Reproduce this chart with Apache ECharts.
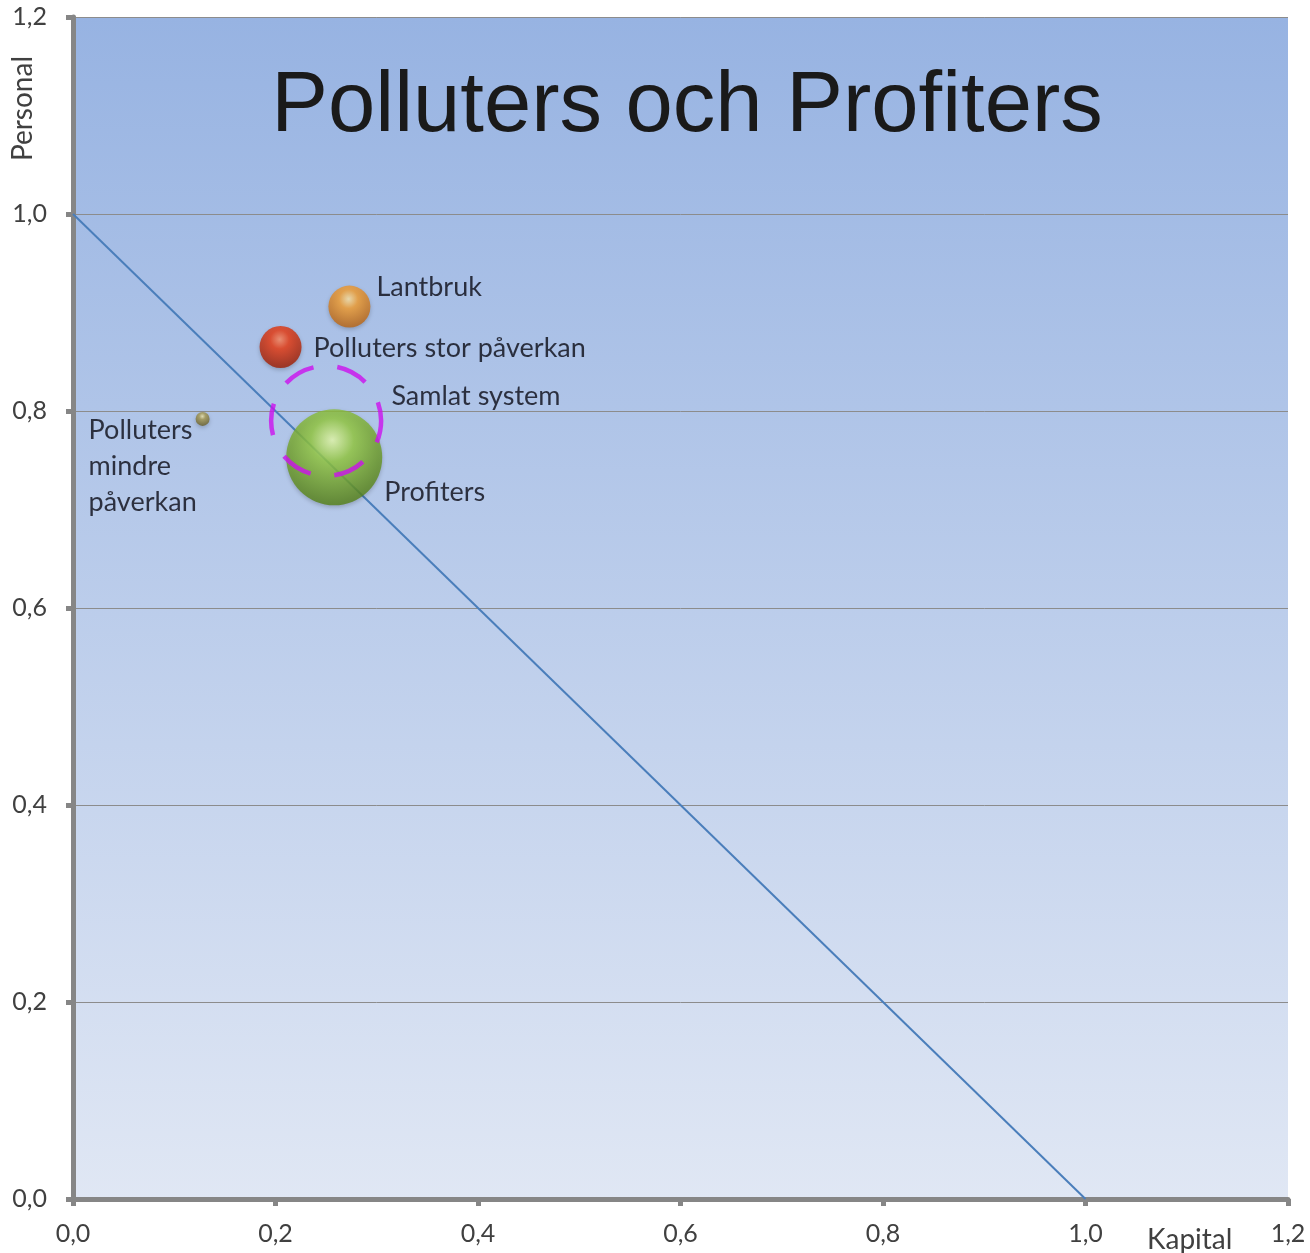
<!DOCTYPE html>
<html><head><meta charset="utf-8">
<script src="https://cdn.jsdelivr.net/npm/echarts@6/dist/echarts.min.js"></script>
<style>html,body{margin:0;padding:0;background:#fff}#c{width:1310px;height:1253px}</style>
</head><body><div id="c"></div>
<script>
// Data
const names = ['Lantbruk', 'Polluters stor påverkan', 'Polluters\nmindre\npåverkan', 'Profiters'];
const kapital = [0.273, 0.205, 0.128, 0.258];
const personal = [0.906, 0.865, 0.792, 0.753];
const sizes = [42, 42, 14, 96];
const samlat = { name: 'Samlat system', x: 0.250, y: 0.790, size: 110 };
const refLine = [[0, 1], [1, 0]];
const xTicks = ['0,0', '0,2', '0,4', '0,6', '0,8', '1,0', '1,2'];
const yTicks = ['0,0', '0,2', '0,4', '0,6', '0,8', '1,0', '1,2'];

const FONT = 'Lato';
function ball(c0, c1, c2) {
  return new echarts.graphic.RadialGradient(0.48, 0.32, 0.75, [
    { offset: 0, color: c0 }, { offset: 0.3, color: c1 }, { offset: 1, color: c2 }
  ]);
}
const colors = [
  ball('#ffe6a8', '#f7a030', '#b05a0c'),
  ball('#ff8a60', '#ec3a10', '#901800'),
  ball('#f0e8b0', '#a89a50', '#5e5420'),
  ball('#eaffb0', '#96cc40', '#4a7410')
];
const labelPos = [
  { position: 'right', distance: 6, offset: [0, -19] },
  { position: 'right', distance: 12, offset: [0, 1] },
  { position: [-107, 0], align: 'left', verticalAlign: 'top', lineHeight: 36 },
  { position: 'right', distance: 2, offset: [0, 35] }
];
const pts = names.map((n, i) => ({
  name: n, value: [kapital[i], personal[i], sizes[i]],
  itemStyle: { color: colors[i], shadowColor: 'rgba(0,0,0,0.25)', shadowBlur: 4, shadowOffsetY: 2 },
  label: Object.assign({ show: true, formatter: n, color: '#0a0a14', fontSize: 27, fontFamily: FONT }, labelPos[i])
}));

const chart = echarts.init(document.getElementById('c'));
const fmt = v => v.toFixed(1).replace('.', ',');
chart.setOption({
  animation: false,
  grid: {
    left: 73, right: 22, top: 17, bottom: 54, show: true, borderWidth: 0,
    backgroundColor: new echarts.graphic.LinearGradient(0, 0, 0, 1, [
      { offset: 0, color: '#97b3e2' }, { offset: 1, color: '#e0e7f4' }
    ])
  },
  title: {
    text: 'Polluters och Profiters', left: 682, top: 60, textAlign: 'center',
    textStyle: { fontFamily: 'Liberation Sans', fontSize: 85, fontWeight: 'normal', color: '#1a1a1a' }
  },
  xAxis: {
    type: 'value', min: 0, max: 1.2, interval: 0.2,
    axisLine: { show: true, onZero: false, lineStyle: { color: '#868686', width: 5 } },
    axisTick: { show: true, length: 7, lineStyle: { color: '#868686', width: 5 } },
    splitLine: { show: false },
    axisLabel: { margin: 22, fontSize: 25, fontFamily: FONT, color: '#404040', formatter: fmt }
  },
  yAxis: {
    type: 'value', min: 0, max: 1.2, interval: 0.2,
    axisLine: { show: true, onZero: false, lineStyle: { color: '#868686', width: 5 } },
    axisTick: { show: true, length: 7, lineStyle: { color: '#868686', width: 5 } },
    splitLine: { show: true, lineStyle: { color: '#8c8c8c', width: 1 } },
    axisLabel: { margin: 26, fontSize: 25, fontFamily: FONT, color: '#404040', formatter: fmt }
  },
  graphic: [
    { type: 'text', left: 9, top: 56, rotation: Math.PI / 2,
      style: { text: 'Personal', fontSize: 28, fontFamily: FONT, fill: '#404040' } },
    { type: 'text', left: 1147, top: 1226,
      style: { text: 'Kapital', fontSize: 28, fontFamily: FONT, fill: '#404040' } }
  ],
  series: [
    {
      type: 'line', data: refLine, symbol: 'none', silent: true,
      lineStyle: { color: '#4a7ebb', width: 2 }, z: 2
    },
    {
      type: 'scatter', data: pts, z: 3,
      symbolSize: v => v[2]
    },
    {
      type: 'scatter', z: 4,
      data: [{ name: samlat.name, value: [samlat.x, samlat.y, samlat.size] }],
      symbolSize: v => v[2],
      itemStyle: { color: 'rgba(0,0,0,0)', borderColor: '#cc10ee', borderWidth: 4.5, borderType: [32, 24], borderDashOffset: 10 },
      label: { show: true, formatter: samlat.name, position: 'right', distance: 8, offset: [0, -25],
        color: '#0a0a14', fontSize: 27, fontFamily: FONT }
    }
  ]
});
</script></body></html>
